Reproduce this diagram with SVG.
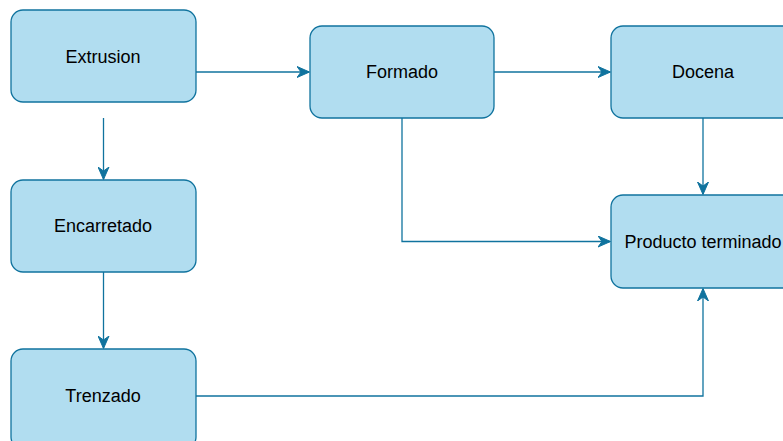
<svg xmlns="http://www.w3.org/2000/svg" width="783" height="441" viewBox="0 0 783 441">
  <style>
    .box { fill: #b1ddf0; stroke: #10739e; stroke-width: 1.3; }
    .lbl { font-family: "Liberation Sans", Arial, sans-serif; font-size: 18px; fill: #000; text-anchor: middle; dominant-baseline: central; }
    .edge { fill: none; stroke: #10739e; stroke-width: 1.3; }
  </style>
  <defs>
    <marker id="arrow" viewBox="0 0 13 12" refX="12" refY="6" markerWidth="13" markerHeight="12" markerUnits="userSpaceOnUse" orient="auto">
      <path d="M0,0.5 L12.5,6 L0,11.5 L4,6 Z" fill="#10739e" stroke="#10739e" stroke-width="1"/>
    </marker>
  </defs>
  <rect width="783" height="441" fill="#ffffff"/>

  <g id="extrusion">
    <rect class="box" x="11" y="10" width="185" height="92" rx="12"/>
    <text class="lbl" x="103" y="57">Extrusion</text>
  </g>
  <g id="formado">
    <rect class="box" x="310" y="26" width="184" height="92" rx="12"/>
    <text class="lbl" x="402" y="72">Formado</text>
  </g>
  <g id="docena">
    <rect class="box" x="611" y="26" width="184" height="92" rx="12"/>
    <text class="lbl" x="703" y="72">Docena</text>
  </g>
  <g id="encarretado">
    <rect class="box" x="11" y="180" width="185" height="92" rx="12"/>
    <text class="lbl" x="103" y="226">Encarretado</text>
  </g>
  <g id="producto-terminado">
    <rect class="box" x="611" y="195" width="184" height="93" rx="12"/>
    <text class="lbl" x="703" y="242">Producto terminado</text>
  </g>
  <g id="trenzado">
    <rect class="box" x="11" y="349" width="185" height="100" rx="12"/>
    <text class="lbl" x="103" y="396">Trenzado</text>
  </g>

  <g id="connectors">
    <path class="edge" d="M196,72 L309,72" marker-end="url(#arrow)"/>
    <path class="edge" d="M494,72 L610,72" marker-end="url(#arrow)"/>
    <path class="edge" d="M103.5,118 L103.5,179" marker-end="url(#arrow)"/>
    <path class="edge" d="M103.5,272 L103.5,348" marker-end="url(#arrow)"/>
    <path class="edge" d="M703,118 L703,194" marker-end="url(#arrow)"/>
    <path class="edge" d="M402,118 L402,241.5 L610,241.5" marker-end="url(#arrow)"/>
    <path class="edge" d="M196,396 L703,396 L703,289" marker-end="url(#arrow)"/>
  </g>
</svg>
